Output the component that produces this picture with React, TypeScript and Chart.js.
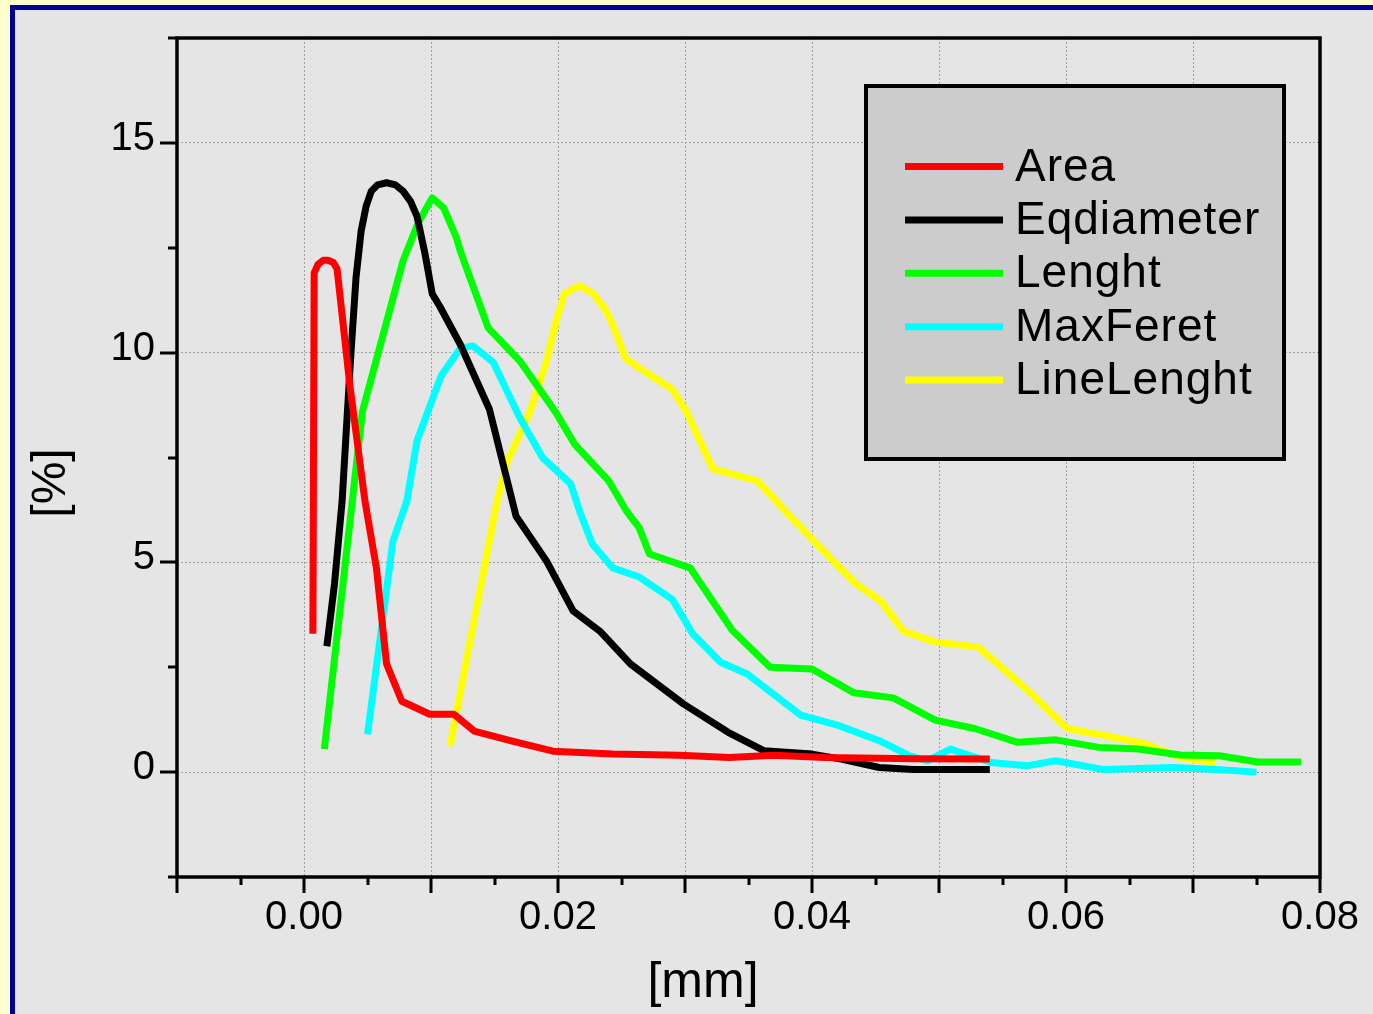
import React, { useEffect, useRef } from "react";
import { Chart, registerables } from "chart.js";

Chart.register(...registerables);

const FONT = "'Liberation Sans', Arial, Helvetica, sans-serif";

const seriesNames = ["Area", "Eqdiameter", "Lenght", "MaxFeret", "LineLenght"];
const seriesColors = ["#ff0000", "#000000", "#00ff00", "#00ffff", "#ffff00"];

const areaX = [0.0007, 0.0008, 0.0011, 0.0015, 0.0019, 0.0023, 0.0026, 0.0036, 0.0048, 0.0057, 0.0065, 0.0077, 0.0099, 0.0118, 0.0134, 0.0164, 0.0196, 0.0243, 0.0296, 0.0335, 0.037, 0.041, 0.048, 0.054];
const areaY = [3.3, 11.9, 12.1, 12.2, 12.2, 12.15, 12.0, 9.25, 6.46, 4.87, 2.58, 1.69, 1.38, 1.38, 0.98, 0.74, 0.5, 0.43, 0.4, 0.35, 0.4, 0.35, 0.32, 0.31];

const eqX = [0.0018, 0.0024, 0.003, 0.0034, 0.0037, 0.0041, 0.0045, 0.0049, 0.0053, 0.0058, 0.0065, 0.0072, 0.0078, 0.0084, 0.0089, 0.0095, 0.0101, 0.0107, 0.0123, 0.0146, 0.0167, 0.0191, 0.0212, 0.0233, 0.0257, 0.0299, 0.0334, 0.0362, 0.04, 0.0423, 0.0453, 0.048, 0.054];
const eqY = [3.0, 4.48, 6.46, 8.5, 10.0, 11.8, 12.9, 13.5, 13.85, 14.0, 14.05, 14.0, 13.85, 13.6, 13.25, 12.4, 11.4, 11.1, 10.2, 8.65, 6.1, 5.03, 3.84, 3.36, 2.58, 1.62, 0.95, 0.51, 0.43, 0.31, 0.11, 0.06, 0.06];

const lenX = [0.0016, 0.0046, 0.0078, 0.009, 0.0101, 0.011, 0.012, 0.0123, 0.0145, 0.017, 0.0199, 0.0213, 0.024, 0.0254, 0.0264, 0.0272, 0.0304, 0.0337, 0.0367, 0.04, 0.0433, 0.0464, 0.0497, 0.0528, 0.0562, 0.0592, 0.0626, 0.0657, 0.069, 0.0721, 0.0751, 0.0785];
const lenY = [0.55, 8.6, 12.19, 13.1, 13.69, 13.45, 12.74, 12.43, 10.59, 9.8, 8.54, 7.82, 6.94, 6.22, 5.82, 5.2, 4.87, 3.39, 2.5, 2.46, 1.89, 1.77, 1.24, 1.04, 0.71, 0.77, 0.59, 0.55, 0.41, 0.39, 0.24, 0.24];

const feretX = [0.005, 0.007, 0.0081, 0.0089, 0.0108, 0.0123, 0.0133, 0.0149, 0.017, 0.0188, 0.021, 0.0217, 0.0227, 0.0243, 0.0264, 0.029, 0.0306, 0.0328, 0.0349, 0.0391, 0.042, 0.0453, 0.0477, 0.0491, 0.0509, 0.0541, 0.0569, 0.0592, 0.063, 0.0684, 0.0718, 0.075];
const feretY = [0.9, 5.5, 6.46, 7.9, 9.45, 10.1, 10.16, 9.77, 8.44, 7.49, 6.87, 6.22, 5.44, 4.87, 4.65, 4.12, 3.3, 2.62, 2.34, 1.36, 1.12, 0.75, 0.39, 0.27, 0.55, 0.23, 0.15, 0.27, 0.06, 0.11, 0.06, 0.0];

const lineX = [0.0115, 0.0152, 0.016, 0.0178, 0.0191, 0.0199, 0.0205, 0.0217, 0.0228, 0.0238, 0.0246, 0.0253, 0.0264, 0.029, 0.0301, 0.0322, 0.0357, 0.0396, 0.0435, 0.0454, 0.0472, 0.0497, 0.0531, 0.0569, 0.0601, 0.0636, 0.0663, 0.069, 0.0718];
const lineY = [0.62, 6.46, 7.4, 8.6, 9.8, 10.8, 11.4, 11.6, 11.4, 11.0, 10.45, 9.87, 9.63, 9.13, 8.6, 7.23, 6.94, 5.68, 4.48, 4.08, 3.36, 3.1, 2.98, 1.97, 1.04, 0.84, 0.67, 0.35, 0.23];

const seriesX = [areaX, eqX, lenX, feretX, lineX];
const seriesY = [areaY, eqY, lenY, feretY, lineY];

const xMin = -0.01;
const xMax = 0.08;
const xStep = 0.005;
const yMin = -2.5;
const yMax = 17.5;
const yStep = 2.5;

const xTitle = "[mm]";
const yTitle = "[%]";

const decorPlugin = {
  id: "decor",
  beforeDraw(chart: any) {
    const { ctx, width, height } = chart;
    ctx.save();
    ctx.fillStyle = "#ffffcc";
    ctx.fillRect(0, 0, width, height);
    ctx.fillStyle = "#000099";
    ctx.fillRect(10, 5, width - 10, height - 5);
    ctx.fillStyle = "#e5e5e5";
    ctx.fillRect(15, 10, width - 15, height - 10);
    ctx.restore();
  },
  afterDraw(chart: any) {
    const { ctx, chartArea } = chart;
    const xs = chart.scales.x;
    const ys = chart.scales.y;
    const { left, right, top, bottom } = chartArea;
    ctx.save();
    ctx.strokeStyle = "#000";
    ctx.lineWidth = 3;
    ctx.lineCap = "butt";
    const nx = Math.round((xMax - xMin) / xStep);
    for (let i = 0; i <= nx; i++) {
      const v = xMin + i * xStep;
      const major = i % 2 === 0;
      const px = Math.round(xs.getPixelForValue(v));
      ctx.beginPath();
      ctx.moveTo(px, bottom);
      ctx.lineTo(px, bottom + (major ? 16 : 8));
      ctx.stroke();
    }
    const ny = Math.round((yMax - yMin) / yStep);
    for (let i = 0; i <= ny; i++) {
      const v = yMin + i * yStep;
      const major = i % 2 === 1;
      const py = Math.round(ys.getPixelForValue(v));
      ctx.beginPath();
      ctx.moveTo(left, py);
      ctx.lineTo(left - (major ? 17 : 9), py);
      ctx.stroke();
    }
    ctx.lineWidth = 3.5;
    ctx.strokeRect(left, top, right - left, bottom - top);

    ctx.fillStyle = "#000";
    ctx.font = `50px ${FONT}`;
    ctx.textAlign = "center";
    ctx.textBaseline = "alphabetic";
    ctx.fillText(xTitle, 703, 997);
    ctx.save();
    ctx.translate(65, 483);
    ctx.rotate(-Math.PI / 2);
    ctx.font = `48px ${FONT}`;
    ctx.fillText(yTitle, 0, 0);
    ctx.restore();

    const bx = 866, by = 86, bw = 418, bh = 373;
    ctx.fillStyle = "#cccccc";
    ctx.fillRect(bx, by, bw, bh);
    ctx.lineWidth = 4;
    ctx.strokeStyle = "#000";
    ctx.strokeRect(bx, by, bw, bh);
    ctx.font = `46px ${FONT}`;
    ctx.textAlign = "left";
    try {
      (ctx as any).letterSpacing = "1px";
    } catch (e) {}
    for (let i = 0; i < seriesNames.length; i++) {
      const cy = 166.5 + i * 53.4;
      ctx.strokeStyle = seriesColors[i];
      ctx.lineWidth = 7;
      ctx.beginPath();
      ctx.moveTo(905, cy);
      ctx.lineTo(1003, cy);
      ctx.stroke();
      ctx.fillStyle = "#000";
      ctx.fillText(seriesNames[i], 1015, cy + 14);
    }
    ctx.restore();
  },
};

const zeroPad = (s: any) => {
  s.paddingTop = 0;
  s.paddingBottom = 0;
  s.paddingLeft = 0;
  s.paddingRight = 0;
};

export default function App() {
  const ref = useRef<HTMLCanvasElement | null>(null);
  useEffect(() => {
    if (!ref.current) return;
    const datasets = seriesNames.map((name, i) => ({
      label: name,
      data: seriesX[i].map((x, j) => ({ x, y: seriesY[i][j] })),
      borderColor: seriesColors[i],
      backgroundColor: seriesColors[i],
      borderWidth: 7,
      pointRadius: 0,
      tension: 0,
      borderJoinStyle: "round" as const,
      borderCapStyle: "butt" as const,
      fill: false,
    }));
    const chart = new Chart(ref.current, {
      type: "line",
      data: { datasets },
      plugins: [decorPlugin],
      options: {
        animation: false,
        responsive: false,
        devicePixelRatio: 1,
        layout: { padding: { top: 38, right: 53, left: 0, bottom: 0 } },
        plugins: { legend: { display: false }, tooltip: { enabled: false } },
        scales: {
          x: {
            type: "linear",
            min: xMin,
            max: xMax,
            afterFit: (s: any) => {
              s.height = 137;
              zeroPad(s);
            },
            ticks: {
              stepSize: xStep,
              autoSkip: false,
              maxRotation: 0,
              minRotation: 0,
              padding: 17,
              color: "#000",
              font: { family: FONT, size: 40 },
              callback: (v: any) => {
                const k = Math.round(Number(v) * 1000);
                return k >= 0 && k % 20 === 0 ? Number(v).toFixed(2) : "";
              },
            },
            grid: {
              drawTicks: false,
              lineWidth: 1,
              color: (c: any) => {
                const k = Math.round(c.tick.value * 1000);
                return k % 10 === 0 && k > -10 ? "#a0a0a0" : "rgba(0,0,0,0)";
              },
            },
            border: { display: false, dash: [2, 2] },
          },
          y: {
            type: "linear",
            min: yMin,
            max: yMax,
            afterFit: (s: any) => {
              s.width = 177;
              zeroPad(s);
            },
            ticks: {
              stepSize: yStep,
              autoSkip: false,
              padding: 22,
              labelOffset: -4,
              color: "#000",
              font: { family: FONT, size: 40 },
              callback: (v: any) => {
                const n = Number(v);
                return Math.abs(n % 5) < 1e-9 ? String(n) : "";
              },
            },
            grid: {
              drawTicks: false,
              lineWidth: 1,
              color: (c: any) =>
                Math.abs(c.tick.value % 5) < 1e-9 ? "#a0a0a0" : "rgba(0,0,0,0)",
            },
            border: { display: false, dash: [2, 2] },
          },
        },
      },
    });
    return () => chart.destroy();
  }, []);
  return (
    <div style={{ position: "fixed", left: 0, top: 0, width: 1373, height: 1014 }}>
      <canvas ref={ref} width={1373} height={1014} style={{ width: 1373, height: 1014, display: "block" }} />
    </div>
  );
}
